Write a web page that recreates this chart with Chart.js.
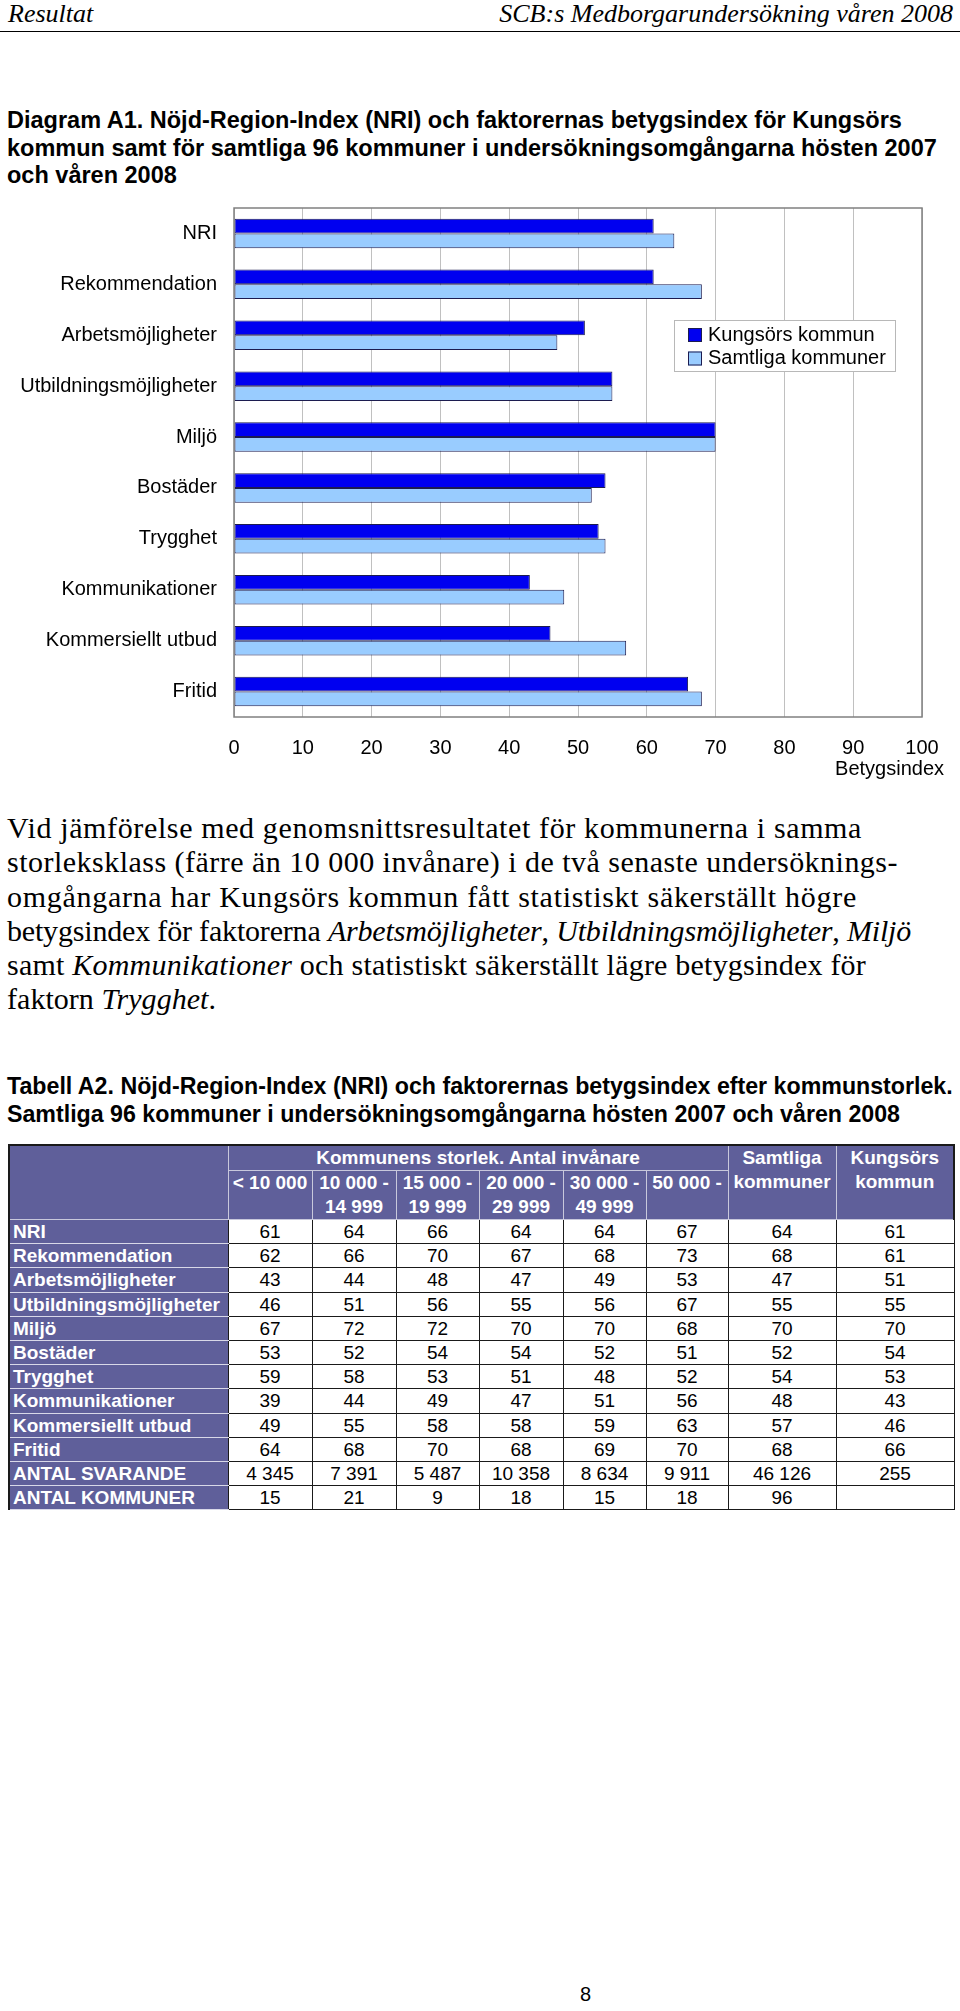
<!DOCTYPE html>
<html>
<head>
<meta charset="utf-8">
<script src="https://cdn.jsdelivr.net/npm/chart.js@4/dist/chart.umd.min.js"></script>
<style>
  body { margin: 0; width: 960px; height: 2011px; position: relative; background: #fff; overflow: hidden;
         font-family: "Liberation Sans", Arial, sans-serif; color: #000; }
  .abs { position: absolute; white-space: nowrap; }
  .head { top: 0; font-family: "Liberation Serif", serif; font-style: italic; font-size: 26px; line-height: 28px; }
  .rule { left: 0; top: 31px; width: 960px; height: 0; border-top: 1.5px solid #000; }
  .title { left: 7px; font-weight: bold; font-size: 23.5px; line-height: 27.5px; }
  .para { left: 7px; top: 811px; font-family: "Liberation Serif", serif; font-size: 30px; line-height: 34.3px; }
  .para span { display: inline-block; }
  #chartBox { position: absolute; left: 0; top: 190px; width: 960px; height: 600px; }
  table { position: absolute; left: 8px; top: 1144px; border-collapse: collapse; table-layout: fixed; font-size: 19px; }
  td { height: 23.2px; padding: 0; text-align: center; border: 1.5px solid #1a1a1a; line-height: 21px; }
  td.lab { background: #5f5f9a; color: #fff; font-weight: bold; text-align: left; padding-left: 3px;
           border-top: 1px solid #d8d8e8; border-bottom: 1px solid #d8d8e8; }
  td.hd { background: #5f5f9a; color: #fff; font-weight: bold; vertical-align: top; line-height: 24px;
          border: 1px solid #c8c8dc; }
  .pg { left: 580px; top: 1983px; font-size: 20px; }
</style>
</head>
<body>
<div class="abs head" style="left:8px">Resultat</div>
<div class="abs head" style="right:7px">SCB:s Medborgarundersökning våren 2008</div>
<div class="abs rule"></div>

<div class="abs title" style="top:107px">Diagram A1. Nöjd-Region-Index (NRI) och faktorernas betygsindex för Kungsörs<br>kommun samt för samtliga 96 kommuner i undersökningsomgångarna hösten 2007<br>och våren 2008</div>

<div id="chartBox"><canvas id="chart"></canvas></div>

<div class="abs para" id="para"><span data-w="855">Vid jämförelse med genomsnittsresultatet för kommunerna i samma</span><br><span data-w="891">storleksklass (färre än 10 000 invånare) i de två senaste undersöknings-</span><br><span data-w="850">omgångarna har Kungsörs kommun fått statistiskt säkerställt högre</span><br><span data-w="904">betygsindex för faktorerna <i>Arbetsmöjligheter</i>, <i>Utbildningsmöjligheter</i>, <i>Miljö</i></span><br><span data-w="859">samt <i>Kommunikationer</i> och statistiskt säkerställt lägre betygsindex för</span><br><span data-w="209">faktorn <i>Trygghet</i>.</span></div>

<div class="abs title" style="top:1072px;line-height:28px;font-size:23.2px">Tabell A2. Nöjd-Region-Index (NRI) och faktorernas betygsindex efter kommunstorlek.<br>Samtliga 96 kommuner i undersökningsomgångarna hösten 2007 och våren 2008</div>

<table id="tab"></table>

<div class="abs pg">8</div>

<script>
// chart categories and series
const categories = ['NRI', 'Rekommendation', 'Arbetsmöjligheter', 'Utbildningsmöjligheter', 'Miljö',
    'Bostäder', 'Trygghet', 'Kommunikationer', 'Kommersiellt utbud', 'Fritid'];
const kungsorsValues = [61, 61, 51, 55, 70, 54, 53, 43, 46, 66];
const samtligaValues = [64, 68, 47, 55, 70, 52, 54, 48, 57, 68];
const seriesNames = ['Kungsörs kommun', 'Samtliga kommuner'];
const axisTitle = 'Betygsindex';

// table columns (size classes)
const rowLabels = categories.concat(['ANTAL SVARANDE', 'ANTAL KOMMUNER']);
const sizeTop = ['< 10 000', '10 000 -', '15 000 -', '20 000 -', '30 000 -', '50 000 -'];
const sizeBottom = ['', '14 999', '19 999', '29 999', '49 999', ''];
const under10k = [61, 62, 43, 46, 67, 53, 59, 39, 49, 64, '4 345', 15];
const from10k = [64, 66, 44, 51, 72, 52, 58, 44, 55, 68, '7 391', 21];
const from15k = [66, 70, 48, 56, 72, 54, 53, 49, 58, 70, '5 487', 9];
const from20k = [64, 67, 47, 55, 70, 54, 51, 47, 58, 68, '10 358', 18];
const from30k = [64, 68, 49, 56, 70, 52, 48, 51, 59, 69, '8 634', 15];
const from50k = [67, 73, 53, 67, 68, 51, 52, 56, 63, 70, '9 911', 18];
const samtligaCol = samtligaValues.concat(['46 126', 96]);
const kungsorsCol = kungsorsValues.concat(['255', '']);

const DARK = '#0000f0';
const LIGHT = '#99ccff';

// legend drawn inside the plot, like the original
const insideLegend = {
    id: 'insideLegend',
    afterDraw(chart) {
        const { ctx, chartArea: a } = chart;
        const x = a.left + 440, y = a.top + 112;
        ctx.save();
        ctx.fillStyle = '#fff';
        ctx.fillRect(x, y, 221, 51);
        ctx.strokeStyle = '#b8b8b8';
        ctx.lineWidth = 1;
        ctx.strokeRect(x + 0.5, y + 0.5, 221, 51);
        ctx.font = '20px "Liberation Sans", Arial, sans-serif';
        ctx.textBaseline = 'middle';
        chart.data.datasets.forEach((ds, i) => {
            const ry = y + 8 + i * 23.5;
            ctx.fillStyle = ds.backgroundColor;
            ctx.fillRect(x + 14, ry, 14, 14);
            ctx.strokeStyle = '#1c1c50';
            ctx.strokeRect(x + 14.5, ry + 0.5, 13, 13);
            ctx.fillStyle = '#000';
            ctx.fillText(ds.label, x + 34, ry + 7);
        });
        // axis title under the tick labels, right aligned
        ctx.textAlign = 'right';
        ctx.fillText(axisTitle, a.right + 22, a.bottom + 52);
        ctx.restore();
    }
};

const plotFrame = {
    id: 'plotFrame',
    afterDatasetsDraw(chart) {
        const { ctx, chartArea: a } = chart;
        ctx.save();
        ctx.strokeStyle = '#808080';
        ctx.lineWidth = 1.5;
        ctx.strokeRect(a.left, a.top, a.right - a.left, a.bottom - a.top);
        ctx.restore();
    }
};

new Chart(document.getElementById('chart'), {
    type: 'bar',
    data: {
        labels: categories,
        datasets: [{
            label: seriesNames[0],
            data: kungsorsValues,
            backgroundColor: DARK,
            borderColor: '#1c1c50',
            borderWidth: 1,
            borderSkipped: false,
            categoryPercentage: 0.58,
            barPercentage: 1.0
        }, {
            label: seriesNames[1],
            data: samtligaValues,
            backgroundColor: LIGHT,
            borderColor: '#1c1c50',
            borderWidth: 1,
            borderSkipped: false,
            categoryPercentage: 0.58,
            barPercentage: 1.0
        }]
    },
    options: {
        indexAxis: 'y',
        responsive: true,
        maintainAspectRatio: false,
        animation: false,
        layout: { padding: { top: 18, right: 38, left: 0, bottom: 0 } },
        plugins: { legend: { display: false }, tooltip: { enabled: false } },
        scales: {
            x: {
                min: 0,
                max: 100,
                ticks: { stepSize: 10, color: '#000', padding: 19, font: { size: 20, family: '"Liberation Sans", Arial, sans-serif' } },
                grid: { color: '#c0c0c0', lineWidth: 1, drawTicks: false },
                border: { display: false },
                afterFit: s => { s.height = 73; }
            },
            y: {
                ticks: { color: '#000', padding: 17, font: { size: 20, family: '"Liberation Sans", Arial, sans-serif' } },
                grid: { display: false, drawTicks: false },
                border: { display: false },
                afterFit: s => { s.width = 234; s.paddingTop = 0; s.paddingBottom = 0; }
            }
        }
    },
    plugins: [plotFrame, insideLegend]
});

// stretch each paragraph line a little so it ends where the original's does
document.querySelectorAll('#para span').forEach(line => {
    const target = +line.dataset.w;
    const chars = line.textContent.length;
    const w = line.getBoundingClientRect().width;
    line.style.letterSpacing = ((target - w) / chars).toFixed(3) + 'px';
});

// build table
const tab = document.getElementById('tab');
const widths = [219, 84, 84, 83, 84, 83, 82, 108, 118];
const cols = [under10k, from10k, from15k, from20k, from30k, from50k, samtligaCol, kungsorsCol];
let html = '<colgroup>' + widths.map(w => `<col style="width:${w}px">`).join('') + '</colgroup>';
html += '<tr><td class="hd" rowspan="3" style="border-left:2px solid #1a1a1a;border-top:2px solid #1a1a1a"></td>' +
    '<td class="hd" colspan="6" style="border-top:2px solid #1a1a1a">Kommunens storlek. Antal invånare</td>' +
    '<td class="hd" rowspan="3" style="border-top:2px solid #1a1a1a">Samtliga<br>kommuner</td>' +
    '<td class="hd" rowspan="3" style="border-top:2px solid #1a1a1a;border-right:2px solid #1a1a1a">Kungsörs<br>kommun</td></tr>';
html += '<tr>' + sizeTop.map((t, i) => `<td class="hd" rowspan="2">${t}<br>${sizeBottom[i] || '&nbsp;'}</td>`).join('') + '</tr><tr></tr>';
rowLabels.forEach((lab, r) => {
    html += `<tr><td class="lab" style="border-left:2px solid #1a1a1a">${lab}</td>` +
        cols.map(c => `<td>${c[r]}</td>`).join('') + '</tr>';
});
tab.innerHTML = html;
</script>
</body>
</html>
